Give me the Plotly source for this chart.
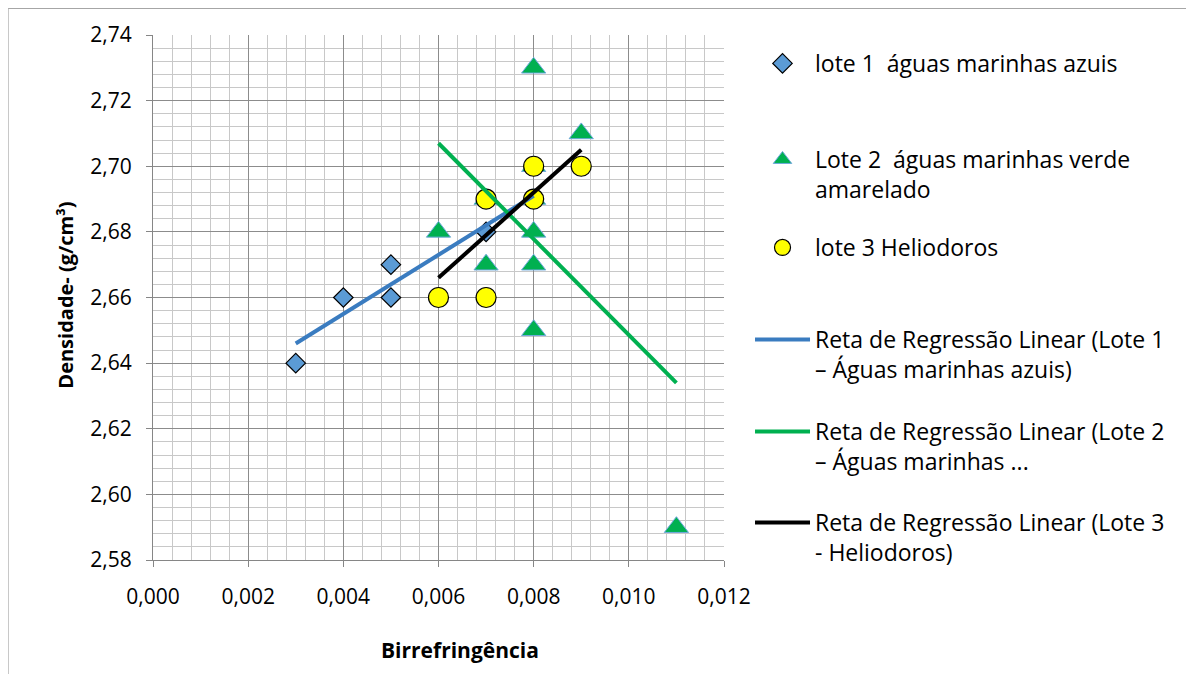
import plotly.graph_objects as go

# ---- data ----
lote1_x = [0.003, 0.004, 0.005, 0.005, 0.007]
lote1_y = [2.64, 2.66, 2.67, 2.66, 2.68]

lote2_x = [0.006, 0.007, 0.007, 0.008, 0.008, 0.008, 0.008, 0.008, 0.008, 0.009, 0.011]
lote2_y = [2.68, 2.67, 2.69, 2.73, 2.70, 2.69, 2.68, 2.67, 2.65, 2.71, 2.59]

lote3_x = [0.006, 0.007, 0.007, 0.008, 0.008, 0.009]
lote3_y = [2.66, 2.66, 2.69, 2.70, 2.69, 2.70]

# regression line end points
reg1_x = [0.003, 0.008]
reg1_y = [2.646, 2.691]
reg2_x = [0.006, 0.011]
reg2_y = [2.707, 2.634]
reg3_x = [0.006, 0.009]
reg3_y = [2.666, 2.705]

names = [
    "lote 1\u00a0 águas marinhas azuis",
    "Lote 2\u00a0 águas marinhas verde<br>amarelado",
    "lote 3 Heliodoros",
    "Reta de Regressão Linear (Lote 1<br>– Águas marinhas azuis)",
    "Reta de Regressão Linear (Lote 2<br>– Águas marinhas ...",
    "Reta de Regressão Linear (Lote 3<br>- Heliodoros)",
]

FONT = "Open Sans"

fig = go.Figure()
fig.add_trace(go.Scatter(x=lote1_x, y=lote1_y, mode="markers", name=names[0], legend="legend",
                         marker=dict(symbol="diamond", size=15, color="#5b9bd5",
                                     line=dict(color="#000000", width=1.2))))
fig.add_trace(go.Scatter(x=lote2_x, y=lote2_y, mode="markers", name=names[1], legend="legend2",
                         marker=dict(symbol="triangle-up", size=21, color="#00b050",
                                     line=dict(color="#6fa8dc", width=1))))
fig.add_trace(go.Scatter(x=lote3_x, y=lote3_y, mode="markers", name=names[2], legend="legend3",
                         marker=dict(symbol="circle", size=20, color="#ffff00",
                                     line=dict(color="#000000", width=1.2))))
fig.add_trace(go.Scatter(x=reg1_x, y=reg1_y, mode="lines", name=names[3], legend="legend4",
                         line=dict(color="#3a7cc0", width=4)))
fig.add_trace(go.Scatter(x=reg2_x, y=reg2_y, mode="lines", name=names[4], legend="legend5",
                         line=dict(color="#00b050", width=4)))
fig.add_trace(go.Scatter(x=reg3_x, y=reg3_y, mode="lines", name=names[5], legend="legend6",
                         line=dict(color="#000000", width=4)))

OFF = 8  # page body margin
W, H = 1194 - 2 * OFF, 682 - 2 * OFF
PL, PR, PT, PB = 153.3, 724, 35, 560  # plot area in page pixels
L = PL - OFF
R = W - (PR - OFF)
T = PT - OFF
B = H - (PB - OFF)
pw, ph = PR - PL, PB - PT


def px_x(p):
    return (p - PL) / pw


def px_y(p):
    return (PB - p) / ph


legend_tops = [42, 138, 226, 318, 410, 501]
leg_common = dict(xanchor="left", yanchor="top", valign="top", itemwidth=55,
                  bgcolor="rgba(0,0,0,0)", font=dict(family=FONT, size=23, color="#000000"))
layout_legends = {}
for i, t in enumerate(legend_tops):
    key = "legend" if i == 0 else f"legend{i + 1}"
    layout_legends[key] = dict(x=px_x(750), y=px_y(t), **leg_common)

axis_common = dict(showline=True, linecolor="#868686", linewidth=1, mirror=False,
                   showgrid=True, gridcolor="#8c8c8c", gridwidth=1,
                   ticks="outside", ticklen=6, tickcolor="#868686",
                   tickfont=dict(family=FONT, size=21, color="#000000"),
                   zeroline=False, fixedrange=True)

fig.update_layout(
    width=W, height=H,
    margin=dict(l=L, r=R, t=T, b=B, autoexpand=False),
    paper_bgcolor="white", plot_bgcolor="white",
    separators=", ",
    showlegend=True,
    font=dict(family=FONT, color="#000000"),
    xaxis=dict(range=[0, 0.012], dtick=0.002, tick0=0, tickformat=".3f",
               ticklabelstandoff=12,
               minor=dict(dtick=0.0004, showgrid=True, gridcolor="#c8c8c8", gridwidth=1),
               **axis_common),
    yaxis=dict(range=[2.58, 2.74], dtick=0.02, tick0=2.58, tickformat=".2f",
               ticklabelstandoff=10,
               minor=dict(dtick=0.004, showgrid=True, gridcolor="#c8c8c8", gridwidth=1),
               **axis_common),
    annotations=[
        dict(text="<b>Birrefringência</b>", xref="paper", yref="paper",
             x=px_x(460), y=px_y(650), xanchor="center", yanchor="middle",
             showarrow=False, font=dict(family=FONT, size=21, color="#000000")),
        dict(text="<b>Densidade- (g/cm³)</b>", xref="paper", yref="paper",
             x=px_x(65), y=px_y(295), xanchor="center", yanchor="middle", textangle=-90,
             showarrow=False, font=dict(family=FONT, size=20, color="#000000")),
    ],
    shapes=[
        dict(type="line", xref="paper", yref="paper", x0=px_x(OFF + 0.5), x1=px_x(OFF + 0.5),
             y0=px_y(OFF + 0.5), y1=px_y(682), line=dict(color="#a6a6a6", width=1)),
        dict(type="line", xref="paper", yref="paper", x0=px_x(OFF + 0.5), x1=px_x(1194),
             y0=px_y(OFF + 0.5), y1=px_y(OFF + 0.5), line=dict(color="#a6a6a6", width=1)),
    ],
    **layout_legends,
)

fig.write_html("out.html")
